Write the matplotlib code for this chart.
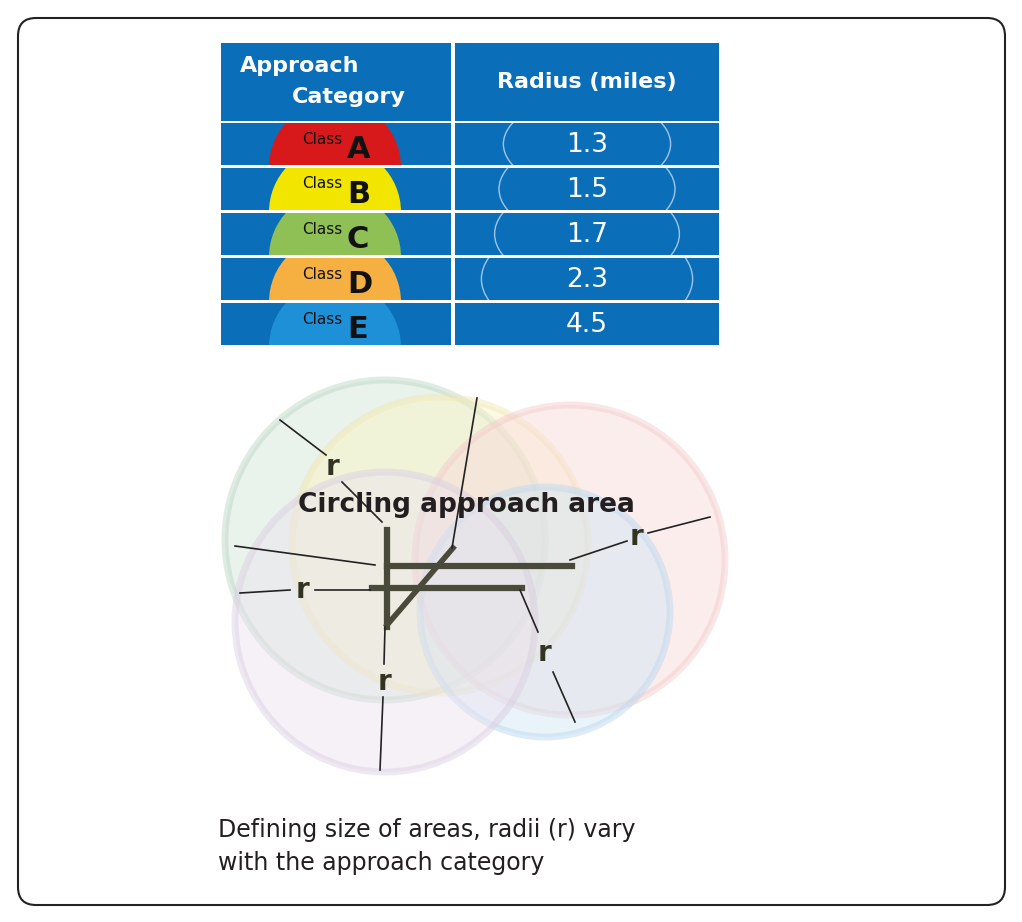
import matplotlib.pyplot as plt
from matplotlib.patches import Rectangle, Circle, FancyBboxPatch, Wedge, Arc

classes = ['A', 'B', 'C', 'D', 'E']
radii = [1.3, 1.5, 1.7, 2.3, 4.5]
class_colors = ['#d7191c', '#f2e600', '#8fc055', '#f5b041', '#1e90d8']
blue = '#0a6fb8'

fig = plt.figure(figsize=(10.22, 9.22), dpi=100)
ax = fig.add_axes([0, 0, 1, 1])
ax.set_xlim(0, 1022)
ax.set_ylim(922, 0)
ax.axis('off')

# frame
ax.add_patch(FancyBboxPatch((18, 18), 987, 887, boxstyle='round,pad=0,rounding_size=18',
                            fc='white', ec='#222222', lw=1.5))

# table header
ax.add_patch(Rectangle((221, 43), 230, 78, fc=blue, ec='none'))
ax.add_patch(Rectangle((455, 43), 264, 78, fc=blue, ec='none'))
ax.text(240, 66, 'Approach', color='white', fontsize=16, fontweight='bold', va='center')
ax.text(292, 97, 'Category', color='white', fontsize=16, fontweight='bold', va='center')
ax.text(587, 82, 'Radius (miles)', color='white', fontsize=16, fontweight='bold',
        va='center', ha='center')

row_top = 123
row_h = 42
for i, (c, r, col) in enumerate(zip(classes, radii, class_colors)):
    y0 = row_top + i * (row_h + 3)
    y1 = y0 + row_h
    left = Rectangle((221, y0), 230, row_h, fc=blue, ec='none')
    ax.add_patch(left)
    w = Wedge((335, y1 + 2), 66, 180, 360, fc=col, ec='none')
    ax.add_patch(w)
    w.set_clip_path(left)
    ax.text(302, y0 + 16, 'Class', fontsize=11, color='#111111', va='center')
    ax.text(347, y0 + 26, c, fontsize=22, fontweight='bold', color='#111111', va='center')
    right = Rectangle((455, y0), 264, row_h, fc=blue, ec='none')
    ax.add_patch(right)
    # dial arcs grow with radius
    aw = 55 + r * 22
    for a0, a1 in [(150, 210), (-30, 30)]:
        arc = Arc((587, y0 + row_h / 2), 2 * aw, 2 * aw * 0.55, theta1=a0, theta2=a1,
                  color='#9fc6ea', lw=1)
        ax.add_patch(arc)
        arc.set_clip_path(right)
    ax.text(587, y0 + row_h / 2 + 1, f'{r}', fontsize=19, color='white',
            ha='center', va='center')

# circling areas
circles = [((385, 540), 160, '#cfe5d6', '#b9d6c2'),
           ((440, 545), 148, '#fbf3c4', '#f1e7b0'),
           ((570, 560), 155, '#f9d9d9', '#f2c8c8'),
           ((545, 612), 125, '#cfe6f5', '#b9d7ee'),
           ((385, 622), 150, '#ece2ee', '#d9cde0')]
for (cx, cy), rr, fc, ec in circles:
    ax.add_patch(Circle((cx, cy), rr, fc=fc, ec=ec, lw=5, alpha=0.45))

# runways
rw = '#4a4a3a'
ax.plot([387, 387], [530, 627], color=rw, lw=4.5)
ax.plot([387, 572], [566, 566], color=rw, lw=4.5)
ax.plot([372, 522], [588, 588], color=rw, lw=4.5)
ax.plot([387, 453], [625, 548], color=rw, lw=4)

# radius lines
segs = [((280, 420), (326, 455)), ((342, 482), (382, 522)),
        ((235, 546), (375, 565)), ((240, 593), (290, 590)), ((315, 590), (370, 590)),
        ((477, 398), (452, 548)), ((570, 560), (627, 541)), ((648, 533), (710, 517)),
        ((520, 590), (538, 632)), ((553, 672), (575, 722)),
        ((385, 627), (384, 664)), ((383, 697), (380, 770))]
for p, q in segs:
    ax.plot([p[0], q[0]], [p[1], q[1]], color='#222222', lw=1.2)
for x, y in [(333, 467), (302, 590), (637, 537), (545, 653), (385, 682)]:
    ax.text(x, y, 'r', fontsize=20, fontweight='bold', color='#333322', ha='center', va='center')

ax.text(466, 505, 'Circling approach area', fontsize=19, fontweight='bold', color='#231f20',
        ha='center', va='center')

ax.text(218, 830, 'Defining size of areas, radii (r) vary', fontsize=17, color='#231f20', va='center')
ax.text(218, 863, 'with the approach category', fontsize=17, color='#231f20', va='center')

fig.savefig('out.png', dpi=100)
